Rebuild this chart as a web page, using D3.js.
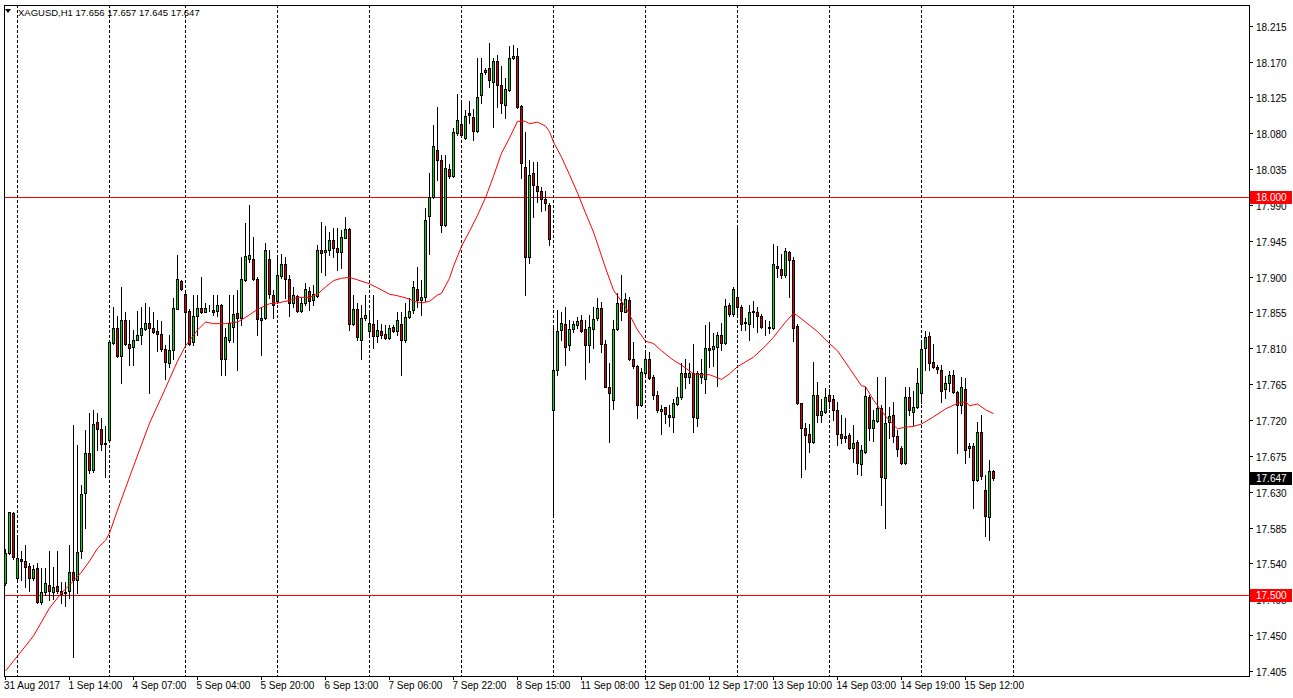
<!DOCTYPE html>
<html><head><meta charset="utf-8">
<script src="https://cdn.jsdelivr.net/npm/d3@7"></script>
<style>
body{margin:0;background:#fff;}
svg text{font-family:"Liberation Sans",Arial,sans-serif;font-size:10px;}
</style>
</head><body>
<svg id="chart" width="1293" height="698"></svg>
<script>
const symbolLabel = "XAGUSD,H1";
const headerValues = ["17.656","17.657","17.645","17.647"];

const opens = [17.515,17.553,17.603,17.522,17.546,17.543,17.537,17.522,17.534,17.491,17.504,17.513,17.504,17.512,17.505,17.504,17.505,17.529,17.519,17.555,
17.628,17.679,17.657,17.717,17.709,17.691,17.695,17.817,17.836,17.800,17.846,17.816,17.812,17.821,17.827,17.834,17.842,17.836,17.832,17.828,
17.809,17.791,17.808,17.860,17.895,17.878,17.857,17.818,17.850,17.861,17.856,17.860,17.858,17.857,17.865,17.797,17.821,17.837,17.854,17.848,
17.896,17.922,17.922,17.897,17.846,17.848,17.922,17.877,17.870,17.901,17.916,17.897,17.867,17.876,17.857,17.867,17.882,17.871,17.876,17.934,
17.931,17.934,17.946,17.936,17.931,17.949,17.960,17.840,17.859,17.821,17.848,17.832,17.840,17.825,17.832,17.828,17.823,17.837,17.832,17.841,
17.821,17.849,17.858,17.884,17.871,17.875,17.976,18.000,18.059,18.046,17.965,18.035,18.026,18.080,18.092,18.074,18.106,18.100,18.083,18.128,
18.157,18.162,18.144,18.171,18.141,18.116,18.134,18.174,18.177,18.114,18.038,17.925,18.030,18.014,18.007,17.998,17.990,17.733,17.783,17.833,
17.841,17.814,17.834,17.839,17.845,17.834,17.814,17.834,17.848,17.861,17.816,17.762,17.745,17.834,17.867,17.856,17.871,17.797,17.788,17.739,
17.779,17.797,17.774,17.752,17.731,17.736,17.726,17.724,17.740,17.749,17.779,17.774,17.779,17.722,17.774,17.772,17.811,17.809,17.812,17.827,
17.817,17.864,17.853,17.875,17.862,17.842,17.841,17.857,17.855,17.851,17.837,17.837,17.836,17.913,17.910,17.902,17.931,17.921,17.838,17.741,
17.710,17.702,17.692,17.751,17.726,17.730,17.751,17.746,17.733,17.702,17.700,17.701,17.685,17.692,17.665,17.680,17.749,17.710,17.719,17.735,
17.647,17.717,17.726,17.700,17.685,17.666,17.749,17.730,17.736,17.754,17.811,17.826,17.793,17.787,17.783,17.759,17.766,17.777,17.755,17.739,
17.759,17.685,17.688,17.645,17.705,17.632,17.598,17.656];

const highs = [17.558,17.605,17.605,17.572,17.556,17.563,17.540,17.538,17.540,17.534,17.534,17.556,17.536,17.555,17.517,17.517,17.563,17.714,17.689,17.639,
17.707,17.729,17.733,17.729,17.723,17.712,17.819,17.862,17.850,17.887,17.856,17.846,17.833,17.857,17.862,17.867,17.862,17.856,17.846,17.844,
17.814,17.827,17.873,17.927,17.896,17.883,17.860,17.877,17.877,17.899,17.867,17.864,17.877,17.877,17.866,17.835,17.877,17.877,17.883,17.925,
17.967,17.990,17.950,17.900,17.862,17.942,17.934,17.883,17.925,17.928,17.925,17.902,17.887,17.877,17.873,17.892,17.887,17.890,17.940,17.969,
17.963,17.956,17.961,17.961,17.959,17.975,17.961,17.877,17.867,17.864,17.877,17.856,17.877,17.846,17.841,17.839,17.839,17.839,17.856,17.856,
17.867,17.873,17.894,17.912,17.896,17.986,18.030,18.090,18.113,18.053,18.053,18.042,18.086,18.129,18.120,18.109,18.120,18.111,18.174,18.174,
18.162,18.193,18.174,18.178,18.164,18.149,18.189,18.191,18.187,18.116,18.082,18.046,18.044,18.044,18.013,18.008,17.992,17.835,17.858,17.856,
17.862,17.846,17.844,17.849,17.852,17.846,17.852,17.862,17.873,17.868,17.821,17.791,17.846,17.879,17.902,17.879,17.874,17.818,17.789,17.785,
17.807,17.805,17.777,17.756,17.739,17.737,17.739,17.747,17.762,17.791,17.796,17.791,17.815,17.781,17.796,17.839,17.843,17.829,17.830,17.842,
17.872,17.867,17.887,17.962,17.864,17.848,17.864,17.869,17.862,17.853,17.846,17.844,17.941,17.939,17.928,17.936,17.932,17.925,17.840,17.742,
17.716,17.715,17.793,17.768,17.747,17.760,17.759,17.751,17.743,17.726,17.722,17.704,17.714,17.695,17.689,17.761,17.751,17.733,17.774,17.739,
17.774,17.737,17.743,17.708,17.687,17.762,17.762,17.756,17.785,17.818,17.832,17.831,17.816,17.789,17.789,17.775,17.782,17.783,17.757,17.774,
17.773,17.691,17.691,17.718,17.726,17.651,17.670,17.657];

const lows = [17.513,17.552,17.546,17.521,17.519,17.511,17.506,17.519,17.490,17.489,17.500,17.494,17.495,17.503,17.490,17.486,17.497,17.423,17.503,17.547,
17.585,17.653,17.655,17.683,17.683,17.649,17.694,17.816,17.799,17.766,17.814,17.789,17.789,17.820,17.816,17.833,17.754,17.829,17.807,17.807,
17.771,17.787,17.797,17.859,17.883,17.812,17.814,17.814,17.827,17.854,17.855,17.857,17.852,17.850,17.776,17.776,17.818,17.818,17.783,17.839,
17.894,17.918,17.896,17.827,17.802,17.847,17.873,17.848,17.867,17.898,17.873,17.850,17.862,17.856,17.856,17.865,17.858,17.865,17.875,17.906,
17.902,17.927,17.925,17.908,17.911,17.948,17.833,17.839,17.821,17.796,17.846,17.827,17.810,17.818,17.823,17.822,17.822,17.831,17.827,17.776,
17.818,17.848,17.854,17.862,17.852,17.869,17.929,17.999,18.021,17.956,17.964,18.024,18.025,18.078,18.076,18.073,18.093,18.072,18.082,18.118,
18.155,18.138,18.088,18.113,18.105,18.099,18.133,18.173,18.112,18.024,17.877,17.917,17.975,17.994,17.982,17.984,17.940,17.599,17.777,17.821,
17.789,17.808,17.831,17.835,17.831,17.772,17.793,17.810,17.846,17.806,17.761,17.693,17.734,17.833,17.846,17.855,17.795,17.785,17.722,17.738,
17.777,17.772,17.747,17.730,17.703,17.716,17.712,17.705,17.739,17.747,17.760,17.766,17.705,17.712,17.766,17.754,17.787,17.788,17.763,17.808,
17.815,17.851,17.850,17.852,17.833,17.833,17.821,17.837,17.831,17.835,17.827,17.829,17.834,17.900,17.898,17.900,17.875,17.819,17.740,17.648,
17.659,17.680,17.691,17.718,17.718,17.729,17.735,17.720,17.689,17.691,17.693,17.684,17.667,17.652,17.651,17.679,17.695,17.694,17.718,17.613,
17.584,17.697,17.693,17.675,17.665,17.665,17.726,17.714,17.735,17.741,17.783,17.783,17.785,17.779,17.743,17.748,17.756,17.754,17.679,17.729,
17.666,17.673,17.609,17.643,17.646,17.574,17.570,17.645];

const closes = [17.553,17.604,17.548,17.547,17.543,17.536,17.522,17.533,17.491,17.504,17.516,17.505,17.511,17.505,17.502,17.503,17.529,17.519,17.554,17.627,
17.679,17.657,17.715,17.709,17.690,17.690,17.818,17.835,17.800,17.845,17.815,17.811,17.821,17.827,17.835,17.842,17.836,17.831,17.828,17.809,
17.793,17.808,17.861,17.897,17.884,17.856,17.815,17.850,17.861,17.856,17.861,17.860,17.856,17.865,17.797,17.824,17.842,17.853,17.848,17.897,
17.926,17.927,17.897,17.847,17.848,17.934,17.878,17.865,17.902,17.916,17.897,17.867,17.877,17.857,17.867,17.884,17.870,17.878,17.934,17.930,
17.934,17.946,17.936,17.931,17.950,17.960,17.840,17.859,17.824,17.848,17.852,17.842,17.825,17.833,17.827,17.823,17.835,17.832,17.846,17.821,
17.849,17.857,17.887,17.871,17.875,17.971,18.000,18.064,18.046,17.965,18.036,18.026,18.081,18.097,18.078,18.102,18.103,18.083,18.126,18.156,
18.159,18.147,18.171,18.141,18.118,18.136,18.174,18.177,18.113,18.043,17.925,18.028,18.015,18.007,17.998,17.992,17.947,17.783,17.832,17.842,
17.812,17.834,17.840,17.844,17.832,17.814,17.837,17.847,17.861,17.816,17.762,17.754,17.834,17.867,17.857,17.872,17.797,17.788,17.739,17.780,
17.797,17.773,17.751,17.732,17.734,17.727,17.724,17.741,17.749,17.779,17.774,17.779,17.724,17.779,17.779,17.811,17.808,17.813,17.827,17.817,
17.863,17.853,17.885,17.862,17.841,17.843,17.855,17.855,17.851,17.837,17.837,17.836,17.916,17.911,17.902,17.932,17.921,17.836,17.741,17.710,
17.701,17.692,17.751,17.726,17.731,17.749,17.744,17.733,17.702,17.698,17.698,17.685,17.691,17.666,17.682,17.750,17.710,17.720,17.735,17.649,
17.716,17.725,17.700,17.684,17.666,17.749,17.733,17.737,17.767,17.809,17.824,17.791,17.786,17.784,17.757,17.766,17.776,17.755,17.739,17.762,
17.683,17.688,17.645,17.705,17.650,17.600,17.656,17.647];

// moving average (red line) at sample bars
const maBars = [0,4,7,11,14,17,19,21,23,25,26,28,32,36,40,43,45,48,50,52,55,58,61,63,66,68,71,73,76,78,80,82,84,86,88,91,93,96,98,101,102,104,106,108,109,111,112,114,116,118,120,122,124,126,128,130,131,133,135,136,137,139,141,143,145,147,149,150,152,155,158,160,162,164,167,169,172,174,176,179,181,183,185,187,190,192,195,197,198,200,203,206,208,211,214,215,217,220,222,223,225,227,229,232,235,238,240,241,243,245,247];
const maValues = [17.405,17.430,17.449,17.484,17.503,17.518,17.529,17.543,17.559,17.569,17.578,17.607,17.662,17.716,17.760,17.794,17.813,17.833,17.843,17.841,17.841,17.843,17.852,17.859,17.866,17.867,17.870,17.874,17.874,17.878,17.887,17.895,17.898,17.899,17.896,17.891,17.886,17.878,17.876,17.872,17.869,17.867,17.869,17.877,17.879,17.898,17.913,17.938,17.957,17.977,17.999,18.026,18.055,18.074,18.095,18.095,18.092,18.094,18.089,18.082,18.069,18.050,18.028,18.005,17.980,17.956,17.926,17.911,17.883,17.862,17.833,17.819,17.816,17.807,17.795,17.789,17.778,17.777,17.777,17.771,17.778,17.787,17.793,17.799,17.813,17.824,17.843,17.854,17.851,17.843,17.831,17.816,17.807,17.785,17.763,17.762,17.745,17.725,17.714,17.709,17.711,17.712,17.715,17.724,17.734,17.741,17.743,17.738,17.740,17.733,17.728];

const separatorBars = [3,26,45,68,91,114,137,160,183,206,229,252];
const timeTickBars = [0,16,32,48,64,80,96,112,128,144,160,176,192,208,224,240];
const timeTickLabels = ["31 Aug 2017","1 Sep 14:00","4 Sep 07:00","5 Sep 04:00","5 Sep 20:00","6 Sep 13:00","7 Sep 06:00","7 Sep 22:00","8 Sep 15:00","11 Sep 08:00","12 Sep 01:00","12 Sep 17:00","13 Sep 10:00","14 Sep 03:00","14 Sep 19:00","15 Sep 12:00"];
const priceTicks = [18.215,18.170,18.125,18.080,18.035,17.990,17.945,17.900,17.855,17.810,17.765,17.720,17.675,17.630,17.585,17.540,17.495,17.450,17.405];
const levelLines = [18.000,17.500];
const lastPrice = 17.647;

const W = 1293, H = 698;
const plotL = 4, plotR = 1249, plotT = 5, plotB = 676;
const bullColor = "#00e000", bearColor = "#e00000", maColor = "#ff0000";

const svg = d3.select("#chart");
const x = d3.scaleLinear().domain([0, 310]).range([5.5, 5.5 + 4*310]);
const y = d3.scaleLinear().domain([17.3987, 18.2410]).range([plotB, plotT]);
const py = v => Math.round(y(v)) + 0.5;

svg.append("rect").attr("width", W).attr("height", H).attr("fill", "#fff");

const clipId = "plotclip";
svg.append("clipPath").attr("id", clipId).append("rect")
  .attr("x", plotL).attr("y", plotT).attr("width", plotR - plotL).attr("height", plotB - plotT);
const plot = svg.append("g").attr("clip-path", `url(#${clipId})`);

// period separators
plot.selectAll("line.sep").data(separatorBars).join("line")
  .attr("x1", d => x(d)).attr("x2", d => x(d))
  .attr("y1", plotT).attr("y2", plotB)
  .attr("stroke", "#000").attr("stroke-width", 1).attr("stroke-dasharray", "3,2");

// horizontal levels
plot.selectAll("line.lvl").data(levelLines).join("line")
  .attr("x1", plotL).attr("x2", plotR)
  .attr("y1", d => py(d)).attr("y2", d => py(d))
  .attr("stroke", "#ff0000").attr("stroke-width", 1);

// candles
const bars = d3.range(opens.length).map(i => ({i, o: opens[i], h: highs[i], l: lows[i], c: closes[i]}));
const cg = plot.append("g");
cg.selectAll("line.wick").data(bars).join("line")
  .attr("x1", d => x(d.i)).attr("x2", d => x(d.i))
  .attr("y1", d => Math.round(y(d.h))).attr("y2", d => Math.round(y(d.l)) + 1)
  .attr("stroke", "#000").attr("stroke-width", 1);
cg.selectAll("rect.body").data(bars).join("rect")
  .attr("x", d => x(d.i) - 1)
  .attr("y", d => py(Math.max(d.o, d.c)))
  .attr("width", 2)
  .attr("height", d => Math.max(0, Math.round(y(Math.min(d.o, d.c))) - Math.round(y(Math.max(d.o, d.c)))))
  .attr("fill", d => d.c >= d.o ? bullColor : bearColor)
  .attr("stroke", "#000").attr("stroke-width", 1);

// moving average
const line = d3.line().x((d, k) => x(maBars[k])).y(d => y(d));
plot.append("path").datum(maValues).attr("d", line)
  .attr("fill", "none").attr("stroke", maColor).attr("stroke-width", 1);

// frame
svg.append("rect").attr("x", plotL + 0.5).attr("y", plotT + 0.5)
  .attr("width", plotR - plotL).attr("height", plotB - plotT)
  .attr("fill", "none").attr("stroke", "#000").attr("stroke-width", 1);

// right price axis
const ax = svg.append("g");
ax.selectAll("line.pt").data(priceTicks).join("line")
  .attr("x1", plotR + 0.5).attr("x2", plotR + 4)
  .attr("y1", d => py(d)).attr("y2", d => py(d))
  .attr("stroke", "#000");
ax.selectAll("text.pt").data(priceTicks).join("text")
  .attr("x", plotR + 7).attr("y", d => py(d) + 4)
  .attr("fill", "#000").text(d => d3.format(".3f")(d));

function priceTag(v, bg) {
  const g = svg.append("g");
  g.append("rect").attr("x", plotR + 1).attr("y", Math.round(y(v)) - 6)
    .attr("width", W - plotR - 2).attr("height", 13).attr("fill", bg);
  g.append("text").attr("x", plotR + 7).attr("y", Math.round(y(v)) + 4)
    .attr("fill", "#fff").text(d3.format(".3f")(v));
}
levelLines.forEach(v => priceTag(v, "#ff0000"));
priceTag(lastPrice, "#000");

// bottom time axis
const tx = svg.append("g");
tx.selectAll("line.tt").data(timeTickBars).join("line")
  .attr("x1", d => x(d)).attr("x2", d => x(d))
  .attr("y1", plotB + 0.5).attr("y2", plotB + 4)
  .attr("stroke", "#000");
tx.selectAll("text.tt").data(timeTickBars).join("text")
  .attr("x", (d, k) => k === 0 ? plotL : x(d) - 1)
  .attr("y", plotB + 13)
  .attr("fill", "#000").text((d, k) => timeTickLabels[k]);

// header
svg.append("path").attr("d", "M5,9 L11,9 L8,13 Z").attr("fill", "#000");
svg.append("text").attr("x", 18).attr("y", 16).attr("fill", "#000")
  .style("font-size", "9.5px")
  .text(symbolLabel + "  " + headerValues.join(" "));
</script>
</body></html>
